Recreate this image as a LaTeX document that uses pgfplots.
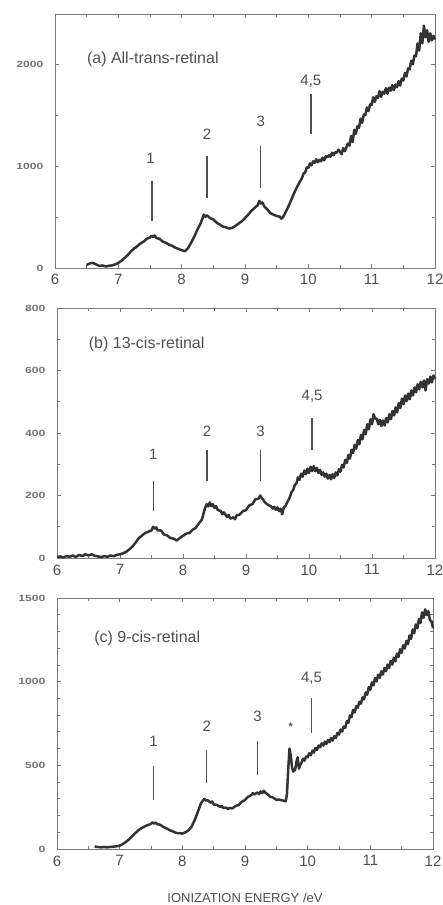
\documentclass[border=0pt]{standalone}
\usepackage{pgfplots}
\pgfplotsset{compat=1.18}
\usepackage{fontspec}
\setmainfont{Liberation Sans}

\definecolor{curve}{HTML}{333333}
\definecolor{frame}{HTML}{7A7A7A}
\definecolor{txt}{HTML}{505050}

\pgfplotsset{
  spec/.style={
    scale only axis,
    xmin=6, xmax=12,
    xtick={6,7,...,12},
    minor x tick num=1,
    tick align=inside,
    major tick length=4pt,
    minor tick length=3pt,
    axis line style={frame, line width=0.8pt},
    every tick/.style={frame, line width=0.8pt},
    x tick label style={font=\fontsize{15}{15}\selectfont, text=txt, yshift=-3pt},
    y tick label style={font=\fontsize{9}{9}\selectfont\bfseries, text=txt!80, xscale=1.35, xshift=-5pt},
    /pgf/number format/assume math mode=true,
    /pgf/number format/1000 sep={},
    clip=false,
  },
}
\tikzset{
  trace/.style={curve, line width=2.5pt, line join=round},
  mark line/.style={txt, line width=1.3pt},
  peak/.style={text=txt, font=\fontsize{15}{15}\selectfont},
  ptitle/.style={text=txt, font=\fontsize{16}{16}\selectfont, anchor=west},
}

\begin{document}
\begin{tikzpicture}[x=1pt,y=1pt]
\useasboundingbox (0,0) rectangle (442,905);

% (a) all-trans
\begin{axis}[spec, at={(55pt,637pt)}, anchor=south west,
  width=380pt, height=254pt, ymin=0, ymax=2500,
  ytick={0,1000,2000}, minor y tick num=1]
\addplot[trace] coordinates {
(6.50,30) (6.55,45) (6.60,50) (6.65,35) (6.70,20) (6.75,25) (6.80,15) (6.85,22)
(6.90,25) (6.95,35) (7.00,50) (7.05,72) (7.10,100) (7.15,128) (7.20,165) (7.25,192)
(7.30,215) (7.35,242) (7.40,260) (7.45,288) (7.50,300) (7.525,318) (7.55,305) (7.575,320)
(7.60,295) (7.65,288) (7.70,260) (7.75,248) (7.80,230) (7.85,218) (7.90,200) (7.95,188)
(8.00,175) (8.05,165) (8.10,195) (8.15,250) (8.20,310) (8.25,380) (8.30,440) (8.35,525)
(8.375,505) (8.40,518) (8.45,490) (8.50,478) (8.55,448) (8.60,428) (8.65,408) (8.70,400)
(8.75,388) (8.80,395) (8.85,415) (8.90,438) (8.95,460) (9.00,492) (9.05,525) (9.10,562)
(9.15,590) (9.20,618) (9.225,660) (9.25,635) (9.275,645) (9.30,610) (9.35,578) (9.40,540)
(9.45,525) (9.50,512) (9.55,505) (9.575,485) (9.60,500) (9.65,560) (9.70,625) (9.75,700)
(9.80,770) (9.85,832) (9.90,885) (9.925,930) (9.95,940) (9.975,990) (10.00,985) (10.025,1030)
(10.05,1010) (10.075,1050) (10.10,1035) (10.125,1070) (10.15,1040) (10.175,1065) (10.20,1050)
(10.225,1085) (10.25,1060) (10.275,1100) (10.30,1090) (10.325,1110) (10.35,1095) (10.375,1135)
(10.40,1110) (10.425,1140) (10.45,1135) (10.475,1165) (10.50,1145) (10.525,1120) (10.55,1180)
(10.575,1150) (10.60,1185) (10.625,1225) (10.65,1205) (10.675,1300) (10.70,1240) (10.725,1360)
(10.75,1320) (10.775,1395) (10.80,1380) (10.825,1470) (10.85,1430) (10.875,1510) (10.90,1505)
(10.925,1580) (10.95,1545) (10.975,1610) (11.00,1605) (11.025,1680) (11.05,1635) (11.075,1690)
(11.10,1675) (11.125,1740) (11.15,1685) (11.175,1735) (11.20,1715) (11.225,1770) (11.25,1715)
(11.275,1775) (11.30,1745) (11.325,1800) (11.35,1750) (11.375,1805) (11.40,1780) (11.425,1840)
(11.45,1795) (11.475,1865) (11.50,1845) (11.525,1920) (11.55,1885) (11.575,1965) (11.60,1955)
(11.625,2040) (11.65,2005) (11.675,2090) (11.70,2085) (11.725,2210) (11.75,2140) (11.775,2310)
(11.80,2210) (11.825,2385) (11.85,2270) (11.875,2340) (11.90,2225) (11.925,2310) (11.95,2240)
(11.975,2285) (12.00,2250)
};
\draw[mark line] (axis cs:7.53,460) -- (axis cs:7.53,854);
\draw[mark line] (axis cs:8.40,690) -- (axis cs:8.40,1100);
\draw[mark line] (axis cs:9.25,788) -- (axis cs:9.25,1199);
\draw[mark line] (axis cs:10.04,1314) -- (axis cs:10.04,1708);
\node[peak] at (axis cs:7.51,1080) {1};
\node[peak] at (axis cs:8.40,1314) {2};
\node[peak] at (axis cs:9.25,1445) {3};
\node[peak] at (axis cs:10.04,1839) {4,5};
\node[ptitle] at (axis cs:6.45,2052) {(a) All-trans-retinal};
\end{axis}

% (b) 13-cis
\begin{axis}[spec, at={(57pt,347pt)}, anchor=south west,
  width=378pt, height=250pt, ymin=0, ymax=800,
  ytick={0,200,400,600,800}, minor y tick num=1]
\addplot[trace] coordinates {
(6.00,3) (6.05,5) (6.10,2) (6.15,6) (6.20,4) (6.25,8) (6.30,3) (6.35,10) (6.40,6)
(6.45,12) (6.50,8) (6.55,12) (6.60,7) (6.65,5) (6.70,3) (6.75,6) (6.80,4) (6.85,8)
(6.90,6) (6.95,10) (7.00,12) (7.05,15) (7.10,20) (7.15,28) (7.20,37) (7.25,50)
(7.30,64) (7.35,72) (7.40,80) (7.45,84) (7.50,88) (7.525,100) (7.55,94) (7.575,98)
(7.60,88) (7.65,88) (7.70,75) (7.75,72) (7.80,64) (7.85,62) (7.90,56) (7.95,64)
(8.00,71) (8.05,78) (8.10,80) (8.15,90) (8.20,96) (8.25,110) (8.30,123) (8.35,160)
(8.375,172) (8.40,165) (8.425,178) (8.45,166) (8.475,172) (8.50,160) (8.525,166) (8.55,154)
(8.60,150) (8.625,140) (8.65,146) (8.70,131) (8.725,138) (8.75,126) (8.80,130) (8.825,124)
(8.85,136) (8.90,139) (8.95,150) (9.00,153) (9.05,168) (9.10,172) (9.15,188) (9.20,190)
(9.225,200) (9.25,192) (9.275,186) (9.30,178) (9.35,170) (9.40,165) (9.425,158) (9.45,164)
(9.475,154) (9.50,162) (9.525,150) (9.55,158) (9.575,140) (9.60,162) (9.625,166) (9.65,176)
(9.675,186) (9.70,197) (9.725,212) (9.75,218) (9.775,234) (9.80,238) (9.825,258) (9.85,250)
(9.875,270) (9.90,260) (9.925,280) (9.95,268) (9.975,286) (10.00,272) (10.025,292) (10.05,278)
(10.075,294) (10.10,278) (10.125,288) (10.15,272) (10.175,282) (10.20,266) (10.225,274) (10.25,260)
(10.275,270) (10.30,254) (10.325,266) (10.35,252) (10.375,268) (10.40,256) (10.425,274) (10.45,264)
(10.475,284) (10.50,276) (10.525,298) (10.55,290) (10.575,314) (10.60,304) (10.625,330) (10.65,318)
(10.675,346) (10.70,336) (10.725,362) (10.75,350) (10.775,378) (10.80,364) (10.825,394) (10.85,380)
(10.875,410) (10.90,396) (10.925,428) (10.95,412) (10.975,444) (11.00,428) (11.025,460) (11.05,446)
(11.075,446) (11.10,428) (11.125,442) (11.15,422) (11.175,440) (11.20,424) (11.225,448) (11.25,434)
(11.275,460) (11.30,444) (11.325,470) (11.35,456) (11.375,482) (11.40,466) (11.425,496) (11.45,480)
(11.475,510) (11.50,492) (11.525,520) (11.55,502) (11.575,526) (11.60,508) (11.625,536) (11.65,520)
(11.675,546) (11.70,530) (11.725,556) (11.75,540) (11.775,564) (11.80,546) (11.825,568) (11.85,536)
(11.875,572) (11.90,558) (11.925,580) (11.95,562) (11.975,584) (12.00,572)
};
\draw[mark line] (axis cs:7.53,149) -- (axis cs:7.53,245);
\draw[mark line] (axis cs:8.38,245) -- (axis cs:8.38,347);
\draw[mark line] (axis cs:9.23,245) -- (axis cs:9.23,347);
\draw[mark line] (axis cs:10.05,347) -- (axis cs:10.05,448);
\node[peak] at (axis cs:7.53,331) {1};
\node[peak] at (axis cs:8.38,405) {2};
\node[peak] at (axis cs:9.23,405) {3};
\node[peak] at (axis cs:10.05,517) {4,5};
\node[ptitle] at (axis cs:6.45,683) {(b) 13-cis-retinal};
\end{axis}

% (c) 9-cis
\begin{axis}[spec, at={(57pt,56pt)}, anchor=south west,
  width=376pt, height=251pt, ymin=0, ymax=1500,
  ytick={0,500,1000,1500}, minor y tick num=4,
  xlabel={IONIZATION ENERGY /eV},
  xlabel style={text=txt, font=\fontsize{13}{13}\selectfont, yshift=-20pt}]
\addplot[trace] coordinates {
(6.60,15) (6.65,12) (6.70,10) (6.75,12) (6.80,10) (6.85,12) (6.90,14) (6.95,16)
(7.00,20) (7.05,30) (7.10,42) (7.15,58) (7.20,76) (7.25,95) (7.30,112) (7.35,125)
(7.40,135) (7.45,143) (7.50,150) (7.525,160) (7.55,152) (7.575,158) (7.60,149) (7.65,144)
(7.70,131) (7.75,123) (7.80,112) (7.85,105) (7.90,96) (7.95,95) (8.00,92) (8.05,100)
(8.10,112) (8.15,135) (8.20,175) (8.25,225) (8.30,275) (8.35,299) (8.375,290) (8.40,292)
(8.45,277) (8.475,284) (8.50,266) (8.55,264) (8.60,252) (8.625,258) (8.65,246) (8.70,247)
(8.725,238) (8.75,245) (8.80,243) (8.85,257) (8.90,263) (8.95,282) (9.00,293) (9.05,312)
(9.10,322) (9.125,334) (9.15,326) (9.20,338) (9.225,328) (9.25,344) (9.275,334) (9.30,348)
(9.325,336) (9.35,330) (9.40,313) (9.45,307) (9.50,294) (9.55,295) (9.60,290) (9.65,285)
(9.67,330) (9.69,480) (9.71,600) (9.73,560) (9.75,490) (9.77,462) (9.80,474) (9.82,520)
(9.84,548) (9.86,480) (9.88,500) (9.90,514) (9.925,540) (9.95,528) (9.975,552) (10.00,548)
(10.025,572) (10.05,560) (10.075,588) (10.10,576) (10.125,604) (10.15,592) (10.175,618) (10.20,608)
(10.225,632) (10.25,618) (10.275,642) (10.30,628) (10.325,652) (10.35,638) (10.375,664) (10.40,648)
(10.425,674) (10.45,664) (10.475,694) (10.50,684) (10.525,714) (10.55,702) (10.575,732) (10.60,724)
(10.625,764) (10.65,754) (10.675,798) (10.70,788) (10.725,832) (10.75,816) (10.775,854) (10.80,844)
(10.825,880) (10.85,868) (10.875,906) (10.90,894) (10.925,936) (10.95,922) (10.975,968) (11.00,952)
(11.025,996) (11.05,978) (11.075,1022) (11.10,1002) (11.125,1042) (11.15,1022) (11.175,1062) (11.20,1042)
(11.225,1082) (11.25,1062) (11.275,1102) (11.30,1082) (11.325,1124) (11.35,1102) (11.375,1144) (11.40,1122)
(11.425,1168) (11.45,1148) (11.475,1194) (11.50,1172) (11.525,1218) (11.55,1198) (11.575,1244) (11.60,1224)
(11.625,1276) (11.65,1256) (11.675,1312) (11.70,1290) (11.725,1342) (11.75,1320) (11.775,1374) (11.80,1350)
(11.825,1414) (11.85,1382) (11.875,1432) (11.90,1398) (11.925,1422) (11.95,1368) (11.975,1362) (12.00,1320)
};
\draw[mark line] (axis cs:7.54,295) -- (axis cs:7.54,494);
\draw[mark line] (axis cs:8.39,394) -- (axis cs:8.39,594);
\draw[mark line] (axis cs:9.20,444) -- (axis cs:9.20,643);
\draw[mark line] (axis cs:10.06,693) -- (axis cs:10.06,902);
\node[peak] at (axis cs:7.54,643) {1};
\node[peak] at (axis cs:8.39,733) {2};
\node[peak] at (axis cs:9.20,793) {3};
\node[peak, font=\fontsize{11}{11}\selectfont\bfseries] at (axis cs:9.73,733) {*};
\node[peak] at (axis cs:10.06,1022) {4,5};
\node[ptitle] at (axis cs:6.54,1259) {(c) 9-cis-retinal};
\end{axis}
\end{tikzpicture}
\end{document}
